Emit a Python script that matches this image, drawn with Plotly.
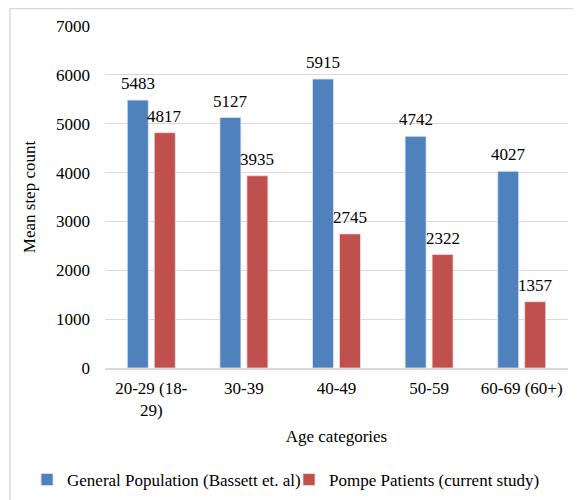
import plotly.graph_objects as go

categories = ["20-29 (18-<br>29)", "30-39", "40-49", "50-59", "60-69 (60+)"]
general_population = [5483, 5127, 5915, 4742, 4027]
pompe_patients = [4817, 3935, 2745, 2322, 1357]
series_names = ["General Population (Bassett et. al)", "Pompe Patients (current study)"]
y_ticks = [0, 1000, 2000, 3000, 4000, 5000, 6000, 7000]

FONT = "Liberation Serif"
FS = 17
BLUE = "#4F81BD"
RED = "#C0504D"

fig = go.Figure()
fig.add_trace(go.Bar(x=categories, y=general_population, name=series_names[0],
                     legend="legend",
                     marker=dict(color=BLUE, line=dict(color="#DCE6F2", width=0.8))))
fig.add_trace(go.Bar(x=categories, y=pompe_patients, name=series_names[1],
                     legend="legend2",
                     marker=dict(color=RED, line=dict(color="#F2DCDB", width=0.8))))

annotations = []
for vals, shift in ((general_population, -13.5), (pompe_patients, 13.5)):
    for c, v in zip(categories, vals):
        annotations.append(dict(x=c, y=v, text=str(v), xref="x", yref="y",
                                showarrow=False, xshift=shift, yshift=5,
                                yanchor="bottom", xanchor="center",
                                font=dict(family=FONT, size=FS, color="#000")))

leg_common = dict(orientation="h", xanchor="left", yref="container", y=0.0407,
                  yanchor="middle", xref="container",
                  font=dict(family=FONT, size=FS, color="#000"),
                  itemwidth=30, bgcolor="rgba(0,0,0,0)")

fig.update_layout(
    width=573, height=492,
    margin=dict(l=97, r=13, t=18, b=131.5, autoexpand=False),
    paper_bgcolor="white", plot_bgcolor="white",
    barmode="group", bargap=0.417, bargroupgap=0.222,
    font=dict(family=FONT, size=FS, color="#000"),
    annotations=annotations,
    showlegend=True,
    legend=dict(x=0.0332, **leg_common),
    legend2=dict(x=0.4904, **leg_common),
    xaxis=dict(title=dict(text="Age categories", standoff=11,
                          font=dict(family=FONT, size=FS)),
               showgrid=False, showline=True, linecolor="#D9D9D9", linewidth=1.5,
               ticks="", ticklabelstandoff=4, tickfont=dict(family=FONT, size=FS)),
    yaxis=dict(title=dict(text="Mean step count", standoff=16,
                          font=dict(family=FONT, size=FS)),
               range=[0, 7000], tickvals=y_ticks, showgrid=True, gridcolor="#D9D9D9",
               gridwidth=1, zeroline=False, showline=False, ticks="",
               ticklabelstandoff=14, tickfont=dict(family=FONT, size=FS)),
    shapes=[dict(type="rect", xref="paper", yref="paper",
                 x0=-0.2052, x1=1.1, y0=-0.5, y1=1.051,
                 line=dict(color="#D9D9D9", width=1.5), fillcolor="rgba(0,0,0,0)",
                 layer="below")],
)

fig.write_html("out.html")
